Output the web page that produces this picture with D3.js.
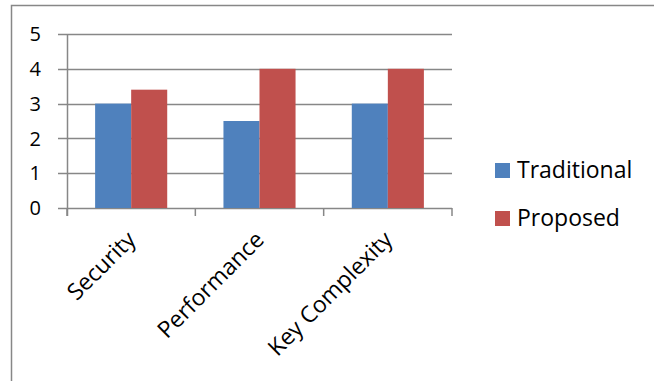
<!DOCTYPE html>
<html lang="en">
<head>
    <meta charset="UTF-8">
    <title>Traditional vs Proposed</title>
    <script src="https://cdn.jsdelivr.net/npm/d3@7/dist/d3.min.js"></script>
    <style>
        body { margin: 0; background: #fff; }
        text { font-family: "Open Sans", sans-serif; fill: #000; }
    </style>
</head>
<body>
    <div class="chart"></div>
</body>
<script>
    const categories = ['Security', 'Performance', 'Key Complexity']
    const seriesNames = ['Traditional', 'Proposed']
    const traditional = [3, 2.5, 3]
    const proposed = [3.4, 4, 4]
    const yTicks = [0, 1, 2, 3, 4, 5]
    const colors = ['#4f81bd', '#c0504d']

    const width = 658
    const height = 381
    const padding = { top: 34, left: 67, right: 206, bottom: 173 }
    const plotW = width - padding.left - padding.right
    const plotH = height - padding.top - padding.bottom

    const svg = d3.select('.chart').append('svg')
        .attr('width', width)
        .attr('height', height)

    // outer frame (only top and left edges show)
    svg.append('path')
        .attr('d', `M11.5,${height}V5.5H654`)
        .attr('fill', 'none')
        .attr('stroke', '#878787')
        .attr('stroke-width', 1.5)

    const g = svg.append('g').attr('transform', `translate(${padding.left},${padding.top})`)

    const xScale = d3.scaleBand().domain(categories).range([0, plotW]).padding(0)
    const xInner = d3.scaleBand().domain(seriesNames)
        .range([0, xScale.bandwidth()]).paddingInner(0).paddingOuter(0.78)
    const yScale = d3.scaleLinear().domain([0, 5]).range([plotH, 0])

    // gridlines
    g.selectAll('.grid').data(yTicks).enter().append('line')
        .attr('class', 'grid')
        .attr('x1', -9).attr('x2', plotW)
        .attr('y1', d => Math.round(yScale(d)) + 0.5)
        .attr('y2', d => Math.round(yScale(d)) + 0.5)
        .attr('stroke', '#878787')
        .attr('stroke-width', 1.5)

    // y tick labels
    g.selectAll('.ylab').data(yTicks).enter().append('text')
        .attr('class', 'ylab')
        .attr('x', -26)
        .attr('y', d => yScale(d))
        .attr('dy', '0.36em')
        .attr('text-anchor', 'end')
        .attr('font-size', '20px')
        .text(d => d)

    // bars
    const rows = categories.map((c, i) => ({ c, vals: [traditional[i], proposed[i]] }))
    const grp = g.selectAll('.cat').data(rows).enter().append('g')
        .attr('transform', d => `translate(${xScale(d.c)},0)`)
    grp.selectAll('rect').data(d => d.vals.map((v, j) => ({ v, s: seriesNames[j], j })))
        .enter().append('rect')
        .attr('x', d => xInner(d.s))
        .attr('width', xInner.bandwidth())
        .attr('y', d => yScale(d.v))
        .attr('height', d => plotH - yScale(d.v))
        .attr('fill', d => colors[d.j])

    // y axis line
    g.append('line')
        .attr('x1', 0.5).attr('x2', 0.5)
        .attr('y1', 0).attr('y2', plotH + 8)
        .attr('stroke', '#878787').attr('stroke-width', 1.5)

    // x category boundary ticks
    const bounds = categories.map(c => xScale(c)).concat([plotW])
    g.selectAll('.xtick').data(bounds).enter().append('line')
        .attr('x1', d => d).attr('x2', d => d)
        .attr('y1', plotH).attr('y2', plotH + 8)
        .attr('stroke', '#878787').attr('stroke-width', 1.5)

    // x labels
    const xAxis = d3.axisBottom(xScale).tickSize(0)
    const gx = g.append('g')
        .attr('transform', `translate(0,${plotH})`)
        .call(xAxis)
    gx.select('.domain').remove()
    gx.selectAll('text')
        .attr('font-size', '23px')
        .attr('font-family', '"Open Sans", sans-serif')
        .attr('fill', '#000')
        .attr('text-anchor', 'end')
        .attr('x', 0).attr('y', 0).attr('dy', 0)
        .attr('transform', 'translate(6,33) rotate(-45)')

    // legend
    const legend = svg.append('g').attr('transform', 'translate(495,163)')
    const li = legend.selectAll('.li').data(seriesNames).enter().append('g')
        .attr('transform', (d, i) => `translate(0,${i * 48})`)
    li.append('rect').attr('width', 15).attr('height', 15).attr('fill', (d, i) => colors[i])
    li.append('text')
        .attr('x', 22).attr('y', 15)
        .attr('font-size', '23px')
        .text(d => d)
</script>
</html>
